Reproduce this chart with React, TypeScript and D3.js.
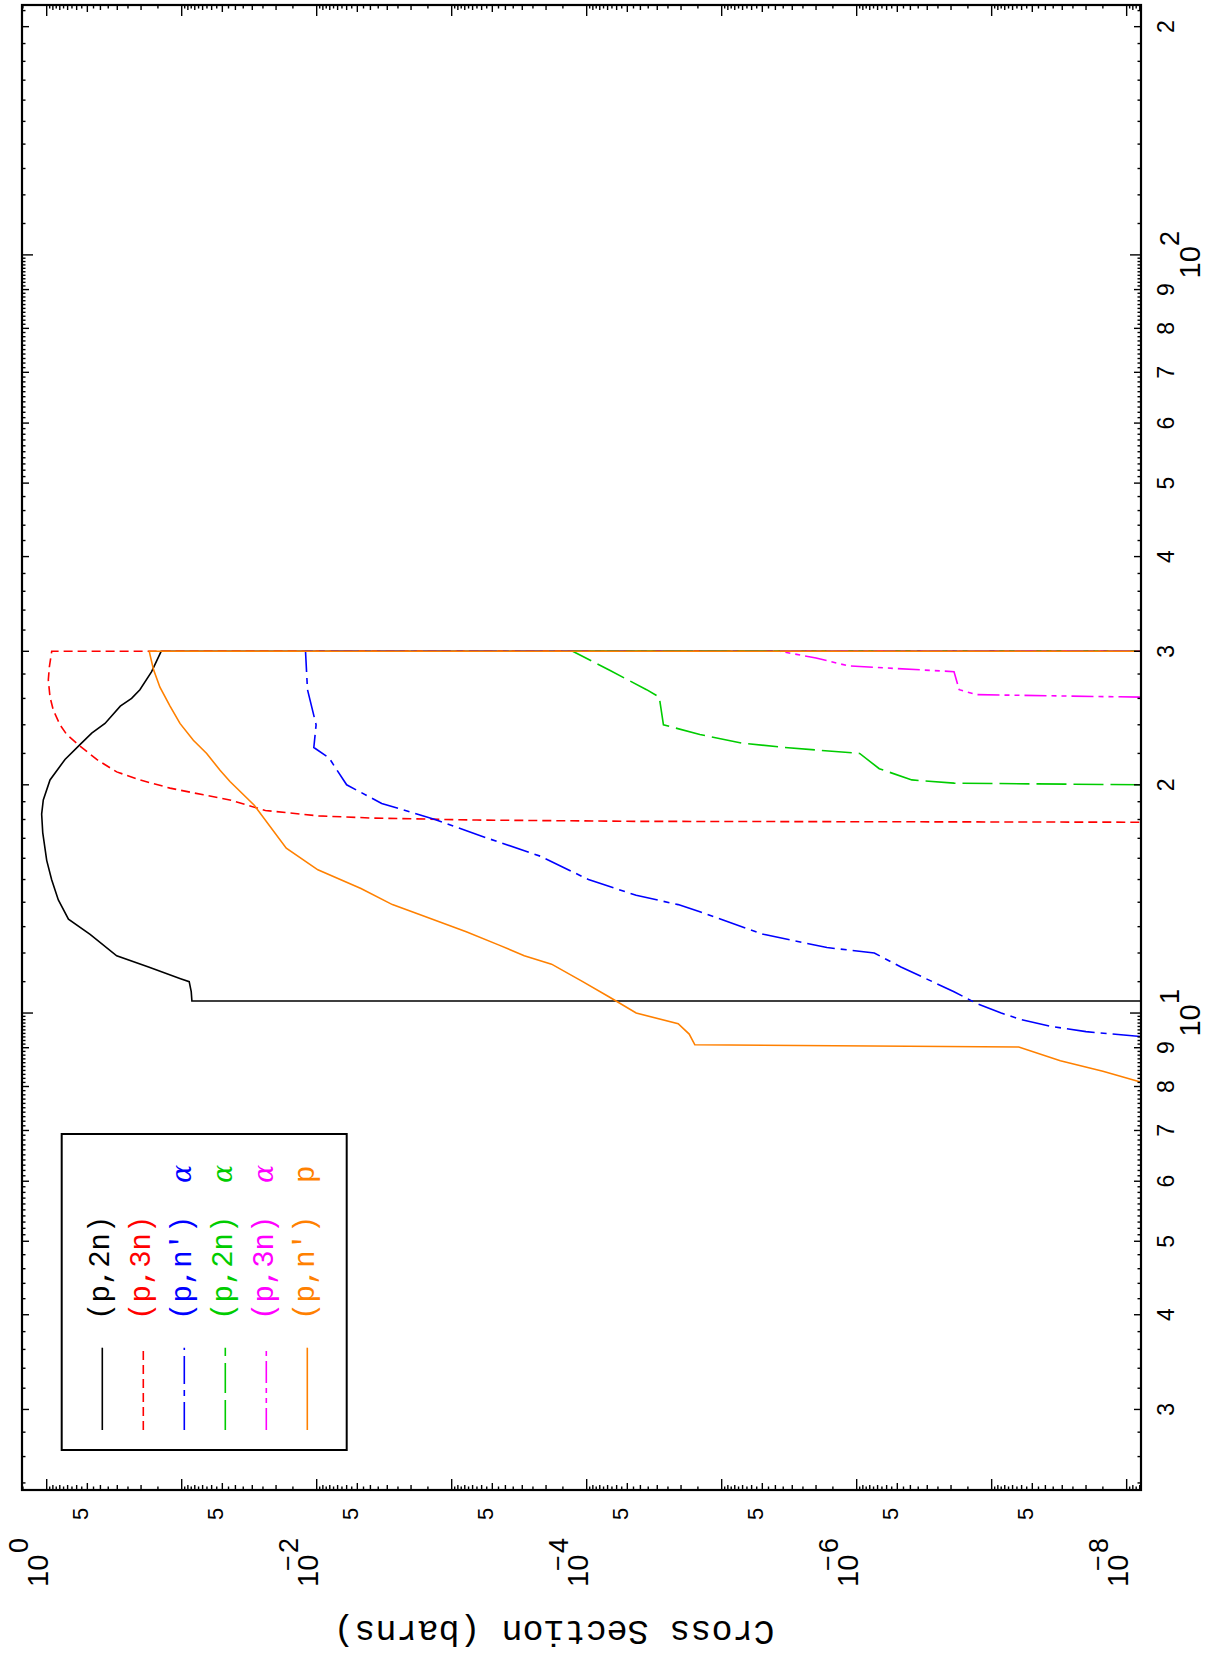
import React from 'react';
import * as d3 from 'd3';

const W = 1207;
const H = 1663;
const FL = 22, FR = 1141, FT = 5, FB = 1490;
const E_DOMAIN: [number, number] = [2.349, 213.6];
const S_DOMAIN: [number, number] = [1.524, 7.83e-9];
const ZERO = 1e-11;

const seriesNames = ['(p,2n)', '(p,3n)', "(p,n')", '(p,2n)', '(p,3n)', "(p,n')"];
const ejectiles = ['', '', 'α', 'α', 'α', 'p'];
const colors = ['#000000', '#ff0000', '#0000ff', '#00cc00', '#ff00ff', '#ff8000'];
const dashes = ['none', '9,5', '28,6,6,6', '30,7', '22,5,5,5,5,5', 'none'];

const blackE = [10.37, 10.37, 10.67, 11.0, 11.1, 11.5, 11.9, 12.7, 13.3, 14.1, 15.0, 15.9, 17.3, 18.3, 19.1, 20.3, 21.6, 22.6, 23.4, 24.1, 25.4, 26.0, 26.7, 28.2, 30.0, 30.0];
const blackS = [ZERO, 0.084, 0.085, 0.088, 0.102, 0.176, 0.303, 0.477, 0.69, 0.82, 0.92, 1.0, 1.07, 1.09, 1.06, 0.945, 0.732, 0.567, 0.464, 0.37, 0.285, 0.235, 0.204, 0.167, 0.142, ZERO];

const redE = [17.85, 17.88, 17.9, 17.97, 18.08, 18.2, 18.5, 19.1, 19.4, 19.8, 20.3, 20.8, 21.6, 22.5, 23.3, 24.0, 25.1, 26.1, 27.5, 28.6, 30.0, 30.0];
const redS = [5e-9, 1.1e-6, 4.3e-5, 6.5e-4, 3.9e-3, 9.7e-3, 0.024, 0.044, 0.069, 0.122, 0.204, 0.303, 0.426, 0.567, 0.711, 0.797, 0.894, 0.945, 0.973, 0.956, 0.918, ZERO];

const blueE = [9.31, 9.45, 9.6, 9.8, 10.0, 10.3, 10.67, 11.5, 12.0, 12.2, 12.7, 13.6, 13.9, 14.3, 15.0, 16.1, 17.0, 18.0, 18.9, 20.0, 21.7, 22.4, 24.0, 26.7, 30.0, 30.0];
const blueS = [7.9e-9, 2.0e-8, 3.6e-8, 6.0e-8, 8.5e-8, 1.3e-7, 1.9e-7, 4.7e-7, 7.4e-7, 1.66e-6, 4.9e-6, 1.45e-5, 2.1e-5, 4.3e-5, 9.7e-5, 2.2e-4, 5.4e-4, 1.33e-3, 3.3e-3, 6.0e-3, 8.1e-3, 0.0105, 0.0101, 0.0117, 0.0121, ZERO];

const greenE = [20.0, 20.1, 20.3, 21.0, 22.0, 22.4, 22.7, 23.3, 24.0, 26.1, 26.7, 28.3, 30.0, 30.0];
const greenS = [7.9e-9, 1.9e-7, 3.9e-7, 6.8e-7, 9.5e-7, 3.4e-6, 7.1e-6, 1.45e-5, 2.7e-5, 2.9e-5, 3.6e-5, 6.7e-5, 1.27e-4, ZERO];

const magentaE = [26.1, 26.3, 26.7, 28.2, 28.7, 29.4, 30.0, 30.0];
const magentaS = [7.9e-9, 1.3e-7, 1.74e-7, 1.9e-7, 1.15e-6, 2.0e-6, 3.7e-6, ZERO];

const orangeE = [8.11, 8.38, 8.65, 9.02, 9.08, 9.38, 9.68, 10.0, 10.5, 11.0, 11.6, 11.9, 12.3, 12.8, 13.5, 13.9, 14.6, 15.45, 16.5, 18.8, 20.2, 20.9, 22.0, 22.9, 24.1, 25.4, 26.9, 28.4, 30.0, 30.0];
const orangeS = [7.9e-9, 1.5e-8, 3.1e-8, 6.3e-8, 1.58e-5, 1.74e-5, 2.1e-5, 4.3e-5, 6.8e-5, 1.07e-4, 1.82e-4, 2.9e-4, 4.5e-4, 7.8e-4, 1.75e-3, 2.75e-3, 4.7e-3, 9.8e-3, 0.0168, 0.029, 0.0439, 0.052, 0.0653, 0.082, 0.103, 0.122, 0.145, 0.162, 0.174, ZERO];

const seriesE = [blackE, redE, blueE, greenE, magentaE, orangeE];
const seriesS = [blackS, redS, blueS, greenS, magentaS, orangeS];

const energyMinorLabels = [3, 4, 5, 6, 7, 8, 9, 20, 30, 40, 50, 60, 70, 80, 90, 200];
const energyMajorLabels = [10, 100];
const sigmaMinorLabels = [5e-1, 5e-2, 5e-3, 5e-4, 5e-5, 5e-6, 5e-7, 5e-8];
const sigmaMajorLabels = [0, -2, -4, -6, -8];

const axisTitle = 'Cross Section (barns)';

function energyTicks() {
  const out: { v: number; len: number }[] = [];
  const add = (a: number, b: number, step: number) => {
    for (let v = a; v < b - 1e-9; v += step) out.push({ v: +v.toFixed(4), len: 3.5 });
  };
  add(2.4, 5, 0.2);
  add(5, 10, 0.1);
  add(10, 20, 1);
  add(20, 50, 2);
  add(50, 100, 1);
  add(100, 220, 10);
  return out.map((t) => {
    const l = Math.log10(t.v);
    const frac = l - Math.floor(l);
    const m = Math.pow(10, frac);
    if (Math.abs(frac) < 1e-6 || Math.abs(frac - 1) < 1e-6) return { v: t.v, len: 11 };
    if (Math.abs(m - Math.round(m)) < 1e-4) return { v: t.v, len: 7 };
    return t;
  });
}

function sigmaTicks() {
  const out: { v: number; len: number }[] = [];
  for (let k = 0; k >= -9; k--) {
    for (let m = 1; m < 10; m += 0.5) {
      const v = m * Math.pow(10, k);
      let len = 3.5;
      if (m === 1) len = 11;
      else if (m === 5) len = 7;
      else if (Number.isInteger(m)) len = 5;
      out.push({ v, len });
    }
  }
  return out;
}

export default function App() {
  const yE = d3.scaleLog().domain(E_DOMAIN).range([FB, FT]);
  const xS = d3.scaleLog().domain(S_DOMAIN).range([FL, FR]);
  const line = d3
    .line<[number, number]>()
    .x((d) => xS(Math.max(d[1], 1e-10)))
    .y((d) => yE(d[0]));

  const eT = energyTicks().filter((t) => t.v >= E_DOMAIN[0] && t.v <= E_DOMAIN[1]);
  const sT = sigmaTicks().filter((t) => t.v <= S_DOMAIN[0] && t.v >= S_DOMAIN[1]);

  const legendX = [102.3, 143.3, 184.3, 225.3, 266.3, 307.3];

  return (
    <div style={{ position: 'absolute', left: 0, top: 0 }}>
      <svg width={W} height={H} xmlns="http://www.w3.org/2000/svg" style={{ display: 'block', background: '#fff' }}>
        <defs>
          <clipPath id="plotclip">
            <rect x={FL} y={FT} width={FR - FL} height={FB - FT} />
          </clipPath>
        </defs>
        <rect x={0} y={0} width={W} height={H} fill="#fff" />

        <g clipPath="url(#plotclip)">
          {seriesE.map((es, i) => {
            const pts = es.map((e, j) => [e, seriesS[i][j]] as [number, number]);
            return (
              <path
                key={i}
                d={line(pts) || ''}
                fill="none"
                stroke={colors[i]}
                strokeWidth={1.6}
                strokeDasharray={dashes[i]}
              />
            );
          })}
        </g>

        {eT.map((t, i) => {
          const y = yE(t.v);
          return (
            <g key={'e' + i} stroke="#000" strokeWidth={1.4}>
              <line x1={FR} x2={FR - t.len} y1={y} y2={y} />
              <line x1={FL} x2={FL + t.len} y1={y} y2={y} />
            </g>
          );
        })}
        {sT.map((t, i) => {
          const x = xS(t.v);
          return (
            <g key={'s' + i} stroke="#000" strokeWidth={1.4}>
              <line x1={x} x2={x} y1={FB} y2={FB - t.len} />
              <line x1={x} x2={x} y1={FT} y2={FT + t.len} />
            </g>
          );
        })}

        <rect x={FL} y={FT} width={FR - FL} height={FB - FT} fill="none" stroke="#000" strokeWidth={2.2} />

        <g fontFamily="'Liberation Sans', Arial, sans-serif" fill="#000">
          {energyMinorLabels.map((v) => (
            <text
              key={'em' + v}
              transform={`translate(${1174},${yE(v)}) rotate(-90)`}
              textAnchor="middle"
              fontSize={23}
            >
              {String(v).charAt(0)}
            </text>
          ))}
          {energyMajorLabels.map((v) => (
            <g key={'eM' + v} transform={`translate(${1200},${yE(v)}) rotate(-90)`}>
              <text x={-23.5} y={0} fontSize={29}>10</text>
              <text x={9} y={-21} fontSize={27}>{Math.round(Math.log10(v))}</text>
            </g>
          ))}
        </g>

        <g fontFamily="'Liberation Sans', Arial, sans-serif" fill="#000">
          {sigmaMinorLabels.map((v) => (
            <text key={'sm' + v} transform={`translate(${xS(v) + 1},${1520}) rotate(-90)`} fontSize={22}>
              5
            </text>
          ))}
          {sigmaMajorLabels.map((k) => (
            <g key={'sM' + k} transform={`translate(${xS(Math.pow(10, k)) + 1.3},${1587}) rotate(-90)`}>
              <text x={0} y={0} fontSize={29}>10</text>
              {k < 0 ? (
                <>
                  <text x={16} y={-21} fontSize={27}>−</text>
                  <text x={34} y={-20} fontSize={27}>{Math.abs(k)}</text>
                </>
              ) : (
                <text x={34} y={-20} fontSize={27}>{k}</text>
              )}
            </g>
          ))}
        </g>

        <text
          transform={`translate(${554},${1621}) rotate(180)`}
          textAnchor="middle"
          fontFamily="'Liberation Mono', 'Courier New', monospace"
          fontSize={35}
          fill="#000"
        >
          {axisTitle}
        </text>

        <rect x={61.7} y={1134} width={285} height={316} fill="#fff" stroke="#000" strokeWidth={2} />
        {seriesNames.map((name, i) => (
          <g key={'lg' + i}>
            <line
              x1={legendX[i]}
              x2={legendX[i]}
              y1={1430}
              y2={1347.7}
              stroke={colors[i]}
              strokeWidth={1.6}
              strokeDasharray={dashes[i]}
            />
            <text
              transform={`translate(${legendX[i] + 7},${1320}) rotate(-90)`}
              fontFamily="'Liberation Mono', 'Courier New', monospace"
              fontSize={29}
              fill={colors[i]}
            >
              {name}
            </text>
            {ejectiles[i] && (
              <text
                transform={`translate(${legendX[i] + 7},${1183}) rotate(-90)`}
                fontFamily={ejectiles[i] === 'α' ? "'DejaVu Serif', serif" : "'Liberation Mono', monospace"}
                fontStyle={ejectiles[i] === 'α' ? 'italic' : 'normal'}
                fontSize={ejectiles[i] === 'α' ? 27 : 29}
                fill={colors[i]}
              >
                {ejectiles[i]}
              </text>
            )}
          </g>
        ))}
      </svg>
    </div>
  );
}
